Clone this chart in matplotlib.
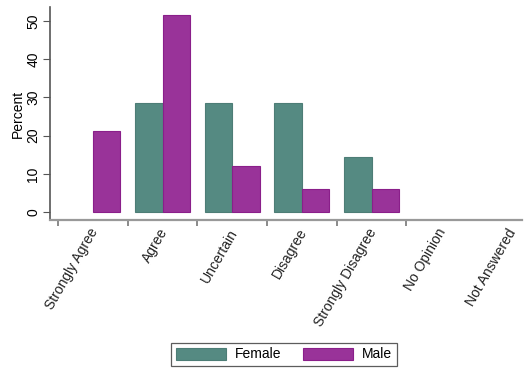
import matplotlib
matplotlib.use("Agg")
import matplotlib.pyplot as plt
from matplotlib.patches import Patch
import numpy as np

categories = ["Strongly Agree", "Agree", "Uncertain", "Disagree",
              "Strongly Disagree", "No Opinion", "Not Answered"]
female = [0, 28.6, 28.6, 28.6, 14.3, 0, 0]
male = [21.2, 51.5, 12.1, 6.1, 6.1, 0, 0]
yticks = [0, 10, 20, 30, 40, 50]

plt.rcParams['font.family'] = ['Liberation Sans', 'DejaVu Sans']

fig = plt.figure(figsize=(5.28, 3.72), dpi=100)
ax = fig.add_axes([50/528, 1-220/372, 472/528, 213/372])

x = np.arange(len(categories))
w = 0.395
fcol = "#558a82"
mcol = "#993399"
fedge = "#4d7d76"
medge = "#8a1f8a"
bf = ax.bar(x - w/2, female, w, color=fcol, edgecolor=fedge, linewidth=0.8)
bm = ax.bar(x + w/2, male, w, color=mcol, edgecolor=medge, linewidth=0.8)
for b, v in zip(list(bf) + list(bm), female + male):
    if v == 0:
        b.set_visible(False)

ax.set_xlim(-0.615, 6.16)
ax.set_ylim(-2.09, 53.7)

ax.spines['top'].set_visible(False)
ax.spines['right'].set_visible(False)
ax.spines['left'].set_color("#555555")
ax.spines['bottom'].set_color("#999999")
ax.spines['left'].set_linewidth(1.2)
ax.spines['bottom'].set_linewidth(1.6)

ax.set_yticks(yticks)
ax.set_yticklabels([str(t) for t in yticks], rotation=90, va='center', fontsize=10)
ax.tick_params(axis='y', length=5, color="#555555", pad=2)

ax.set_xticks(np.arange(-0.5, 5.0, 1.0))
ax.set_xticklabels([])
ax.tick_params(axis='x', length=4, color="#777777", width=1.2)
for xi, lab in zip(x, categories):
    ax.text(xi - 0.06, -3.7, lab, rotation=60, ha='right', va='top',
            rotation_mode='anchor', fontsize=10, color="#222222",
            transform=ax.transData, clip_on=False)

ax.set_ylabel("Percent", fontsize=10, labelpad=1)

handles = [Patch(facecolor=fcol, edgecolor=fedge, linewidth=0.8),
           Patch(facecolor=mcol, edgecolor=medge, linewidth=0.8)]
leg = fig.legend(handles=handles, labels=["Female", "Male"],
                 loc='center', bbox_to_anchor=(284/528, 1-354.5/372),
                 ncol=2, fontsize=10, handlelength=3.6, handleheight=1.0,
                 handletextpad=0.6, columnspacing=1.6, fancybox=False,
                 frameon=True, borderpad=0.35, borderaxespad=0)
leg.get_frame().set_edgecolor("#333333")
leg.get_frame().set_linewidth(0.9)

fig.savefig("out.png", dpi=100)
